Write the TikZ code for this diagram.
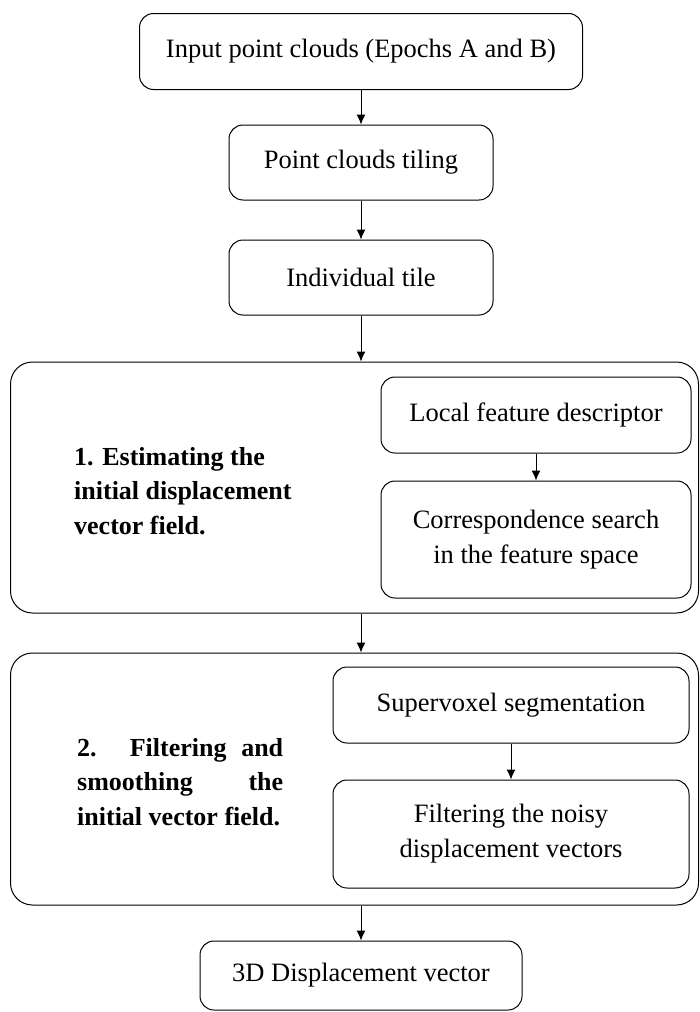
\documentclass[tikz,border=0pt]{standalone}
\usepackage{fontspec}
\setmainfont{Liberation Serif}
\usetikzlibrary{arrows.meta}
\begin{document}
\begin{tikzpicture}[x=1pt,y=-1pt,
  every node/.style={font=\fontsize{26.5}{35}\selectfont, inner sep=0pt},
  stepbox/.style={draw, line width=1pt, rounded corners=14pt, align=center},
  groupbox/.style={draw, line width=1pt, rounded corners=22pt},
  grouplabel/.style={font=\fontsize{26}{34.5}\selectfont\bfseries, anchor=west, align=left},
  arr/.style={-{Latex[length=10pt,width=9pt]}, line width=1pt}]
\useasboundingbox (0,0) rectangle (699,1012);

% main chain
\node[stepbox, minimum width=443pt, minimum height=76pt] (input) at (361,51.5) {Input point clouds (Epochs A and B)};
\node[stepbox, minimum width=264pt, minimum height=75pt] (tiling) at (361,162.5) {Point clouds tiling};
\node[stepbox, minimum width=264pt, minimum height=75pt] (tile) at (361,277.5) {Individual tile};

% group 1: initial displacement field
\node[groupbox, minimum width=688pt, minimum height=251pt] (g1) at (354.5,487.5) {};
\node[stepbox, minimum width=310pt, minimum height=76pt] (lfd) at (536,415) {Local feature descriptor};
\node[stepbox, minimum width=310pt, minimum height=117pt] (corr) at (536,539.5) {Correspondence search\\in the feature space};
\node[grouplabel] (l1) at (74,491) {1. Estimating the\\initial displacement\\vector field.};

% group 2: filtering and smoothing
\node[groupbox, minimum width=688pt, minimum height=252pt] (g2) at (354.5,779) {};
\node[stepbox, minimum width=356pt, minimum height=76pt] (sv) at (511,705) {Supervoxel segmentation};
\node[stepbox, minimum width=356pt, minimum height=108pt] (filt) at (511,834) {Filtering the noisy\\displacement vectors};
\node[grouplabel] (l2) at (77,782) {\makebox[206pt][s]{2. Filtering and}\\\makebox[206pt][s]{smoothing the}\\initial vector field.};

% output
\node[stepbox, minimum width=322pt, minimum height=69pt] (out) at (361,975.5) {3D Displacement vector};

% connectors
\draw[arr] (input) -- (tiling);
\draw[arr] (tiling) -- (tile);
\draw[arr] (tile.south) -- (tile.south |- g1.north);
\draw[arr] (lfd) -- (corr);
\draw[arr] (g1.south -| tile.south) -- (g2.north -| tile.south);
\draw[arr] (sv) -- (filt);
\draw[arr] (g2.south -| out.north) -- (out.north);
\end{tikzpicture}
\end{document}
